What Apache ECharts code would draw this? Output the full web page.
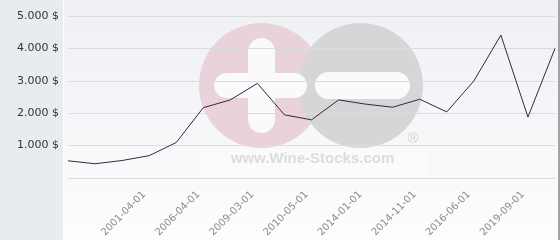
<!DOCTYPE html>
<html>
<head>
<meta charset="utf-8">
<script src="https://cdn.jsdelivr.net/npm/echarts@6/dist/echarts.min.js"></script>
<style>html,body{margin:0;padding:0;background:#fff;}#c{width:560px;height:240px;}</style>
</head>
<body>
<div id="c"></div>
<script>
// Categories (only every other date is labelled in the reference)
var categories = ['', '', '', '2001-04-01', '', '2006-04-01', '', '2009-03-01', '', '2010-05-01', '', '2014-01-01', '', '2014-11-01', '', '2016-06-01', '', '2019-09-01', ''];
// Price values ($)
var prices = [530, 440, 540, 690, 1095, 2170, 2410, 2920, 1950, 1795, 2410, 2280, 2185, 2430, 2040, 2995, 4410, 1880, 4000];
// Y tick labels (0, 1000, ..., 5000)
var yTickLabels = ['', '1.000 $', '2.000 $', '3.000 $', '4.000 $', '5.000 $'];
var watermarkText = 'www.Wine-Stocks.com';

var chart = echarts.init(document.getElementById('c'), null, {renderer: 'canvas'});
chart.setOption({
  animation: false,
  backgroundColor: '#ffffff',
  textStyle: {fontFamily: 'DejaVu Sans'},
  grid: {left: 68, right: 5, top: 16, bottom: 62, containLabel: false},
  graphic: {elements: [
    {type: 'rect', z: -30, shape: {x: 0, y: 0, width: 63, height: 240}, style: {fill: '#e9ecee'}, silent: true},
    {type: 'rect', z: -30, shape: {x: 64, y: 0, width: 494, height: 240}, style: {fill: new echarts.graphic.LinearGradient(0, 0, 0, 1, [{offset: 0, color: '#eef0f4'}, {offset: 1, color: '#fdfdfe'}])}, silent: true},
    {type: 'rect', z: -30, shape: {x: 558, y: 0, width: 2, height: 240}, style: {fill: '#a3a3a3'}, silent: true},
    {type: 'rect', z: -20, shape: {x: 198, y: 149, width: 229, height: 27}, style: {fill: 'rgba(255,255,255,0.35)'}, silent: true},
    {type: 'circle', z: -20, shape: {cx: 261.5, cy: 85.5, r: 62.5}, style: {fill: '#e9d2d9'}, silent: true},
    {type: 'circle', z: -19, shape: {cx: 360.5, cy: 85.5, r: 62.5}, style: {fill: '#d6d6d8'}, silent: true},
    {type: 'rect', z: -18, shape: {x: 248, y: 38, width: 27, height: 95, r: 13.5}, style: {fill: '#fafafc'}, silent: true},
    {type: 'rect', z: -18, shape: {x: 214, y: 73, width: 93, height: 25, r: 12.5}, style: {fill: '#fafafc'}, silent: true},
    {type: 'rect', z: -18, shape: {x: 315, y: 72, width: 95, height: 27, r: 13.5}, style: {fill: '#fafafc'}, silent: true},
    {type: 'text', z: -17, style: {x: 312.5, y: 166, text: watermarkText, fill: '#dcdcde', font: 'bold 15px "Liberation Sans"', textAlign: 'center', textVerticalAlign: 'bottom'}, silent: true},
    {type: 'text', z: -17, style: {x: 413, y: 139, text: '\u00AE', fill: '#d2d2d4', font: '15px "Liberation Sans"', textAlign: 'center', textVerticalAlign: 'middle'}, silent: true}
  ]},
  xAxis: {
    type: 'category',
    data: categories,
    boundaryGap: false,
    axisLine: {show: false},
    axisTick: {show: false},
    splitLine: {show: false},
    axisLabel: {interval: 0, rotate: 45, margin: 10, padding: [0, 7, 0, 0], fontSize: 10, color: '#8a8a8a', fontFamily: 'DejaVu Sans'}
  },
  yAxis: {
    type: 'value',
    min: 0, max: 5000, interval: 1000,
    axisLine: {show: false},
    axisTick: {show: false},
    splitLine: {show: true, lineStyle: {color: '#dcdcdc', width: 1}},
    axisLabel: {margin: 9, fontSize: 11, color: '#333333', fontFamily: 'DejaVu Sans',
      formatter: function (v) { return yTickLabels[Math.round(v / 1000)]; }}
  },
  series: [{
    type: 'line',
    data: prices,
    symbol: 'none',
    lineStyle: {color: '#3f2535', width: 1},
    z: 5
  }]
});
</script>
</body>
</html>
